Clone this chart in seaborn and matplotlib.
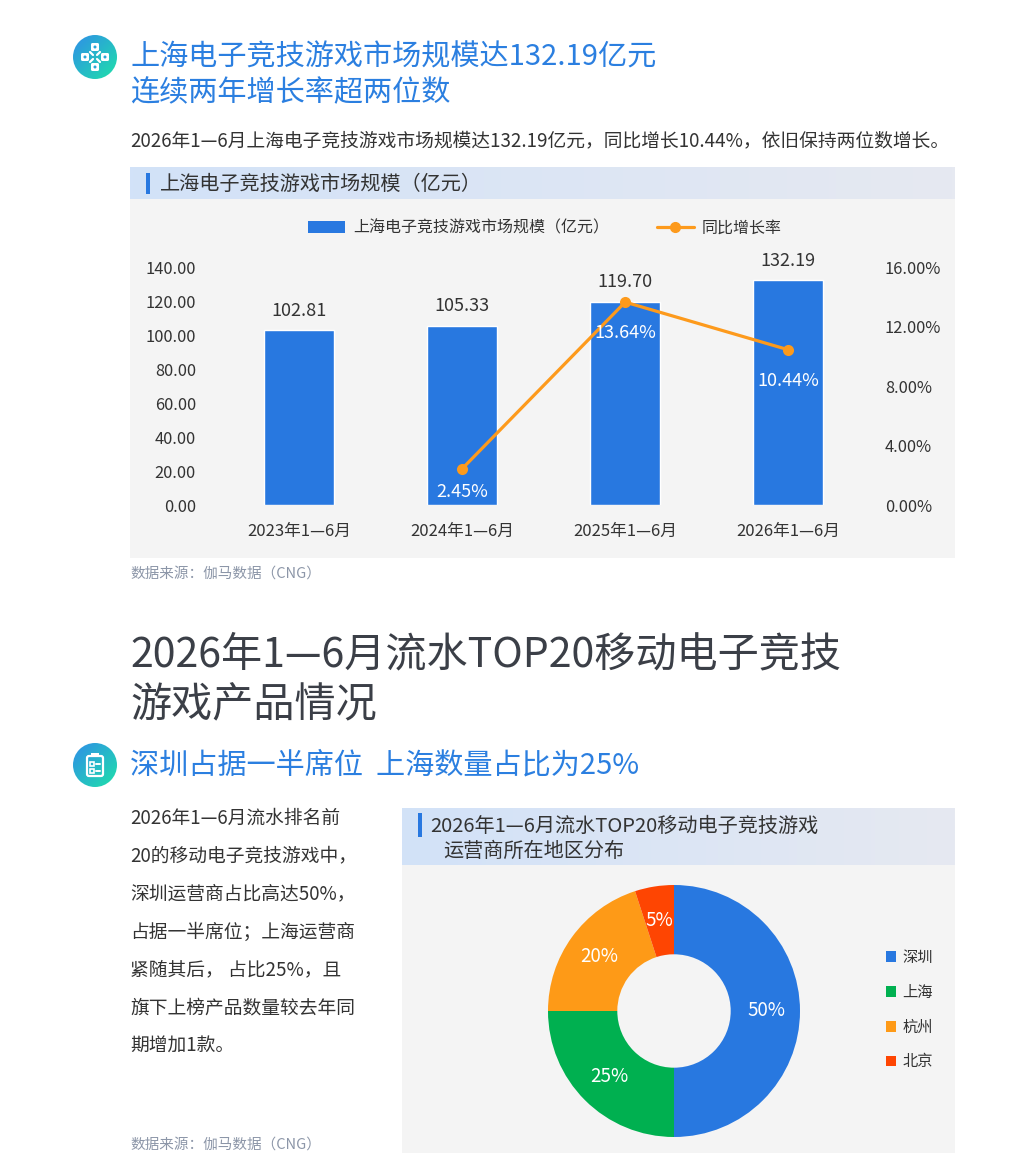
import numpy as np
import matplotlib
matplotlib.use("Agg")
import matplotlib.pyplot as plt
import matplotlib.patches as mpatches
from matplotlib.lines import Line2D
from matplotlib.colors import LinearSegmentedColormap
from matplotlib.ticker import FuncFormatter, MultipleLocator
import seaborn as sns

# ---- data ----
periods = ["2023年1—6月", "2024年1—6月", "2025年1—6月", "2026年1—6月"]
market_size = [102.81, 105.33, 119.70, 132.19]
growth_periods = ["2024年1—6月", "2025年1—6月", "2026年1—6月"]
growth_rate = [2.45, 13.64, 10.44]
regions = ["深圳", "上海", "杭州", "北京"]
region_share = [50, 25, 20, 5]

paragraph = [
    "2026年1—6月流水排名前",
    "20的移动电子竞技游戏中，",
    "深圳运营商占比高达50%，",
    "占据一半席位；上海运营商",
    "紧随其后， 占比25%，且",
    "旗下上榜产品数量较去年同",
    "期增加1款。",
]

BLUE = "#2878e0"
ORANGE = "#fd9a1c"
TITLE_BLUE = "#2b7fe0"
TXT = "#333333"
SRC = "#8c96a8"
region_colors = ["#2878e0", "#00b050", "#fe9a17", "#fe4502"]

sns.set_theme(style="white")
plt.rcParams['font.family'] = ['Noto Sans CJK SC', 'DejaVu Sans']

W, H = 1024, 1161
fig = plt.figure(figsize=(W / 100, H / 100), dpi=100)
fig.patch.set_facecolor("white")


def box(l, t, r, b):
    # pixel box -> figure fraction
    return [l / W, 1 - b / H, (r - l) / W, (b - t) / H]


bg = fig.add_axes([0, 0, 1, 1])
bg.axis("off")


def hgrad(l, t, r, b, c1, c2):
    cmap = LinearSegmentedColormap.from_list("g", [c1, c2])
    bg.imshow(np.linspace(0, 1, 256)[None, :], extent=(l, r, b, t), cmap=cmap,
              aspect="auto", zorder=1)


def icon(cx, cy, kind):
    circ = mpatches.Circle((cx, cy), 22, facecolor="none", edgecolor="none")
    bg.add_patch(circ)
    yy, xx = np.mgrid[0:1:64j, 0:1:64j]
    cmap = LinearSegmentedColormap.from_list("ic", ["#2f8fe8", "#1fe0aa"])
    im = bg.imshow((xx + yy) / 2, extent=(cx - 22, cx + 22, cy + 22, cy - 22),
                   cmap=cmap, aspect="auto", zorder=2)
    im.set_clip_path(circ)
    if kind == "pad":
        for dx, dy in [(0, -10), (-10, 0), (10, 0), (0, 10)]:
            bg.add_patch(mpatches.FancyBboxPatch((cx + dx - 4, cy + dy - 4), 8, 8,
                         boxstyle="round,pad=0,rounding_size=1.5", fc="white", ec="none", zorder=3))
            bg.add_patch(mpatches.Circle((cx + dx, cy + dy), 1.5, fc="#2aa6d8", ec="none", zorder=4))
        for dx, dy in [(-1, -1), (1, -1), (-1, 1), (1, 1)]:
            bg.plot([cx + dx * 2, cx + dx * 5], [cy + dy * 2, cy + dy * 5], color="white", lw=1.6, zorder=3)
    else:
        bg.add_patch(mpatches.FancyBboxPatch((cx - 8, cy - 9), 16, 20,
                     boxstyle="round,pad=0,rounding_size=2", fc="none", ec="white", lw=1.6, zorder=3))
        bg.add_patch(mpatches.Rectangle((cx - 4, cy - 12), 8, 4, fc="white", ec="none", zorder=3))
        for dy in [-1, 6]:
            bg.add_patch(mpatches.Rectangle((cx - 5, cy + dy - 2), 3.5, 3.5, fc="none", ec="white", lw=1.2, zorder=3))
            bg.plot([cx + 0.5, cx + 5], [cy + dy, cy + dy], color="white", lw=1.4, zorder=3)


# ---- top section ----
icon(95, 57, "pad")
bg.text(130, 57, "上海电子竞技游戏市场规模达132.19亿元", fontsize=21, color=TITLE_BLUE, va="center")
bg.text(130, 93, "连续两年增长率超两位数", fontsize=21, color=TITLE_BLUE, va="center")
bg.text(130, 141, "2026年1—6月上海电子竞技游戏市场规模达132.19亿元，同比增长10.44%，依旧保持两位数增长。",
        fontsize=13.5, color=TXT, va="center")

hgrad(130, 167, 955, 199, "#d2e2f8", "#e6e9f1")
bg.add_patch(mpatches.Rectangle((130, 199), 825, 359, fc="#f4f4f4", ec="none", zorder=1))
bg.add_patch(mpatches.Rectangle((146, 173), 4, 21, fc=BLUE, ec="none", zorder=2))
bg.text(160, 184, "上海电子竞技游戏市场规模（亿元）", fontsize=14.5, color=TXT, va="center", zorder=3)
bg.text(130, 574, "数据来源：伽马数据（CNG）", fontsize=10.5, color=SRC, va="center")

# ---- bar + line chart ----
ax = fig.add_axes(box(218, 267, 869.5, 505))
ax.patch.set_alpha(0)
sns.barplot(x=periods, y=market_size, color=BLUE, saturation=1, width=0.43, ax=ax)
ax.set_ylim(0, 140)
ax.yaxis.set_major_locator(MultipleLocator(20))
ax.yaxis.set_major_formatter(FuncFormatter(lambda v, _: f"{v:.2f}"))
ax.tick_params(axis="y", length=0, pad=16, labelsize=11.8, labelcolor=TXT)
ax.tick_params(axis="x", length=0, pad=13, labelsize=12, labelcolor=TXT)
ax.set_xlabel("")
ax.set_ylabel("")
for i, v in enumerate(market_size):
    ax.annotate(f"{v:.2f}", (i, v), xytext=(0, 14), textcoords="offset points",
                ha="center", va="center", fontsize=13, color=TXT, annotation_clip=False)

ax2 = ax.twinx()
xs = [periods.index(p) for p in growth_periods]
sns.lineplot(x=xs, y=growth_rate, ax=ax2, color=ORANGE, linewidth=2.3, marker="o",
             markersize=8, markeredgecolor=ORANGE, markeredgewidth=0)
ax2.set_ylim(0, 16)
ax2.yaxis.set_major_locator(MultipleLocator(4))
ax2.yaxis.set_major_formatter(FuncFormatter(lambda v, _: f"{v:.2f}%"))
ax2.tick_params(axis="y", length=0, pad=11, labelsize=11.8, labelcolor=TXT)
ax2.set_ylabel("")
for x, v in zip(xs, growth_rate):
    ax2.text(x, max(v - 2.08, 0.9), f"{v:.2f}%", color="white", ha="center", va="center", fontsize=13)
ax.set_xlim(-0.5, 3.5)
for a in (ax, ax2):
    for s in a.spines.values():
        s.set_visible(False)
    a.grid(False)

fig.legend([mpatches.Patch(fc=BLUE, ec="none"),
            Line2D([0], [0], color=ORANGE, lw=2.3, marker="o", ms=7)],
           ["上海电子竞技游戏市场规模（亿元）", "同比增长率"],
           loc="center", bbox_to_anchor=(545 / W, 1 - 228 / H), ncol=2, frameon=False,
           fontsize=11.5, labelcolor=TXT, handlelength=2.3, handleheight=0.8,
           columnspacing=3, handletextpad=0.5)

# ---- second section ----
bg.text(130, 655, "2026年1—6月流水TOP20移动电子竞技", fontsize=29.6, color="#3b3f47", va="center")
bg.text(130, 706, "游戏产品情况", fontsize=29.6, color="#3b3f47", va="center")
icon(95, 765, "clip")
bg.text(130, 765, "深圳占据一半席位  上海数量占比为25%", fontsize=21, color=TITLE_BLUE, va="center")
for k, line in enumerate(paragraph):
    bg.text(130, 818 + 38 * k, line, fontsize=13.5, color=TXT, va="center")
bg.text(130, 1145, "数据来源：伽马数据（CNG）", fontsize=10.5, color=SRC, va="center")

hgrad(402, 808, 955, 865, "#d2e2f8", "#e6e9f1")
bg.add_patch(mpatches.Rectangle((402, 865), 553, 288, fc="#f4f4f4", ec="none", zorder=1))
bg.add_patch(mpatches.Rectangle((418, 813), 4, 24, fc=BLUE, ec="none", zorder=2))
bg.text(430, 826, "2026年1—6月流水TOP20移动电子竞技游戏", fontsize=14.5, color=TXT, va="center", zorder=3)
bg.text(443, 851, "运营商所在地区分布", fontsize=14.5, color=TXT, va="center", zorder=3)

bg.set_xlim(0, W)
bg.set_ylim(H, 0)

# ---- donut ----
axp = fig.add_axes(box(548, 885, 800, 1137))
wedges, _, _ = axp.pie(region_share, colors=region_colors, startangle=90, counterclock=False,
                       wedgeprops=dict(width=0.55, linewidth=0), autopct="%.0f%%",
                       pctdistance=0.73, textprops=dict(color="white", fontsize=13.5))
axp.set_xlim(-1, 1)
axp.set_ylim(-1, 1)
axp.set_aspect("equal")

fig.legend(wedges, regions, loc="upper left", bbox_to_anchor=(872 / W, 1 - 935 / H),
           frameon=False, fontsize=11, labelcolor=TXT, handlelength=0.7, handleheight=0.7,
           handletextpad=0.4, labelspacing=1.17)

fig.savefig("out.png", dpi=100, facecolor="white")
